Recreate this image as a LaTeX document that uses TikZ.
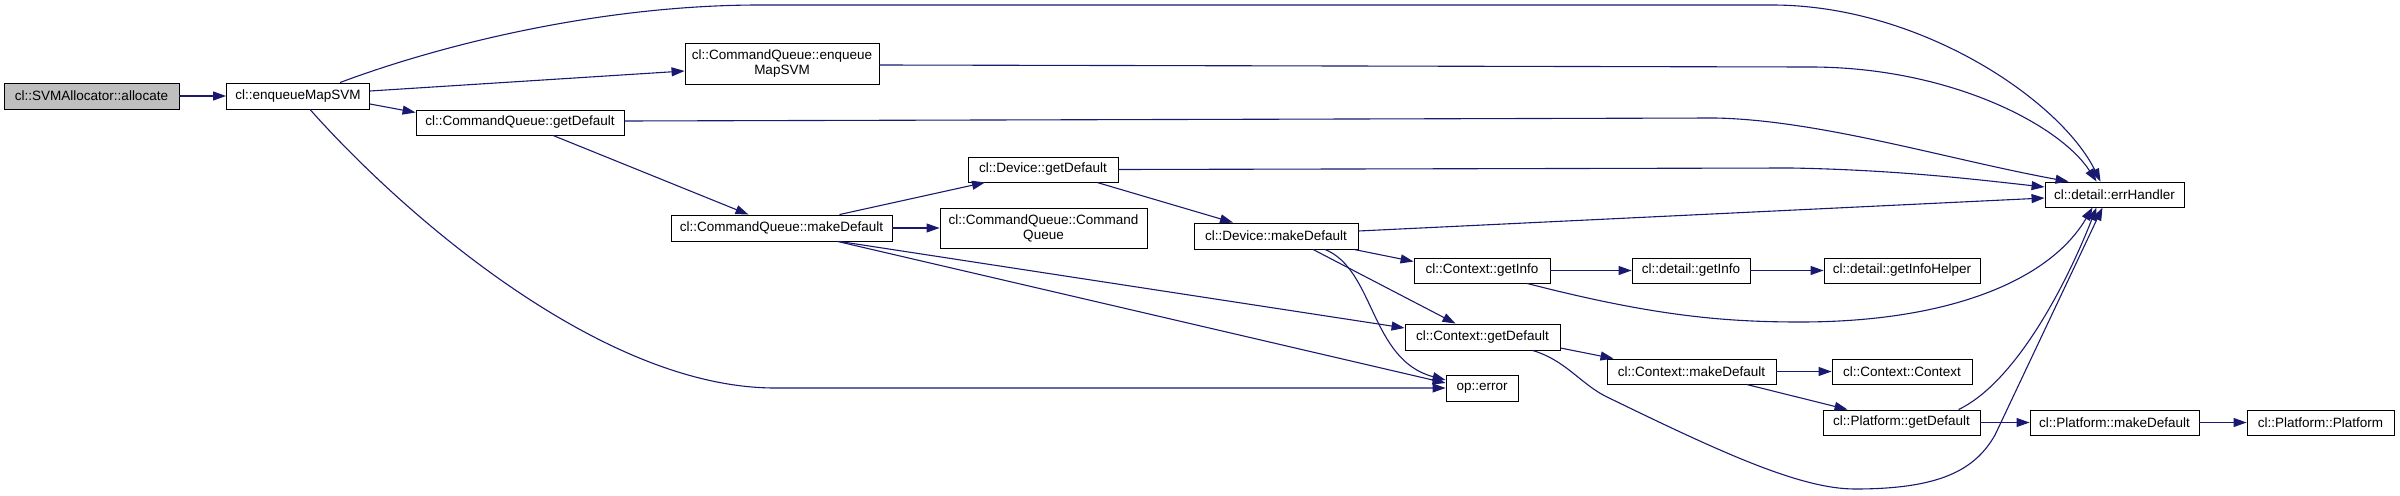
\documentclass[tikz,border=0pt]{standalone}
\usepackage{fontspec}
\setmainfont{Liberation Sans}
\usetikzlibrary{arrows.meta}
\definecolor{edgeblue}{HTML}{191970}
\definecolor{rootgray}{HTML}{BFBFBF}
\tikzset{
  box/.style={draw=black, line width=0.9pt, fill=white, inner sep=0pt, align=center,
    font=\fontsize{13.5}{15}\selectfont},
  edge/.style={draw=edgeblue, line width=1.1pt, -{Triangle[length=13pt,width=9pt]}}
}
\begin{document}
\begin{tikzpicture}[x=1pt,y=-1pt]
\useasboundingbox (0,0) rectangle (2400,495);
% nodes
\node[box, fill=rootgray, minimum width=175pt, minimum height=26pt] (alloc) at (91.5,96) {cl::SVMAllocator::allocate};
\node[box, minimum width=143pt, minimum height=26pt] (emsvm) at (298,96) {cl::enqueueMapSVM};
\node[box, minimum width=208pt, minimum height=25pt] (cqgd) at (520,122.5) {cl::CommandQueue::getDefault};
\node[box, minimum width=194pt, minimum height=41pt] (cqems) at (782,63.5) {cl::CommandQueue::enqueue\\MapSVM};
\node[box, minimum width=150pt, minimum height=25pt] (dgd) at (1043,169.5) {cl::Device::getDefault};
\node[box, minimum width=221pt, minimum height=26pt] (cqmd) at (781.5,228) {cl::CommandQueue::makeDefault};
\node[box, minimum width=207pt, minimum height=40pt] (cqcq) at (1043.5,228) {cl::CommandQueue::Command\\Queue};
\node[box, minimum width=164pt, minimum height=26pt] (dmd) at (1276,236) {cl::Device::makeDefault};
\node[box, minimum width=139pt, minimum height=25pt] (err) at (2114.5,194.5) {cl::detail::errHandler};
\node[box, minimum width=136pt, minimum height=25pt] (cgi) at (1482,270.5) {cl::Context::getInfo};
\node[box, minimum width=118pt, minimum height=25pt] (dgi) at (1691,270.5) {cl::detail::getInfo};
\node[box, minimum width=156pt, minimum height=25pt] (gih) at (1902,270.5) {cl::detail::getInfoHelper};
\node[box, minimum width=155pt, minimum height=26pt] (cgd) at (1482.5,337) {cl::Context::getDefault};
\node[box, minimum width=72pt, minimum height=26pt] (operr) at (1482,388) {op::error};
\node[box, minimum width=169pt, minimum height=25pt] (cmd) at (1691.5,371.5) {cl::Context::makeDefault};
\node[box, minimum width=140pt, minimum height=25pt] (cctx) at (1902,371.5) {cl::Context::Context};
\node[box, minimum width=157pt, minimum height=25pt] (pgd) at (1901.5,422.5) {cl::Platform::getDefault};
\node[box, minimum width=169pt, minimum height=25pt] (pmd) at (2114.5,422.5) {cl::Platform::makeDefault};
\node[box, minimum width=147pt, minimum height=25pt] (pp) at (2320.5,422.5) {cl::Platform::Platform};
% edges
\draw[edge] (alloc) -- (emsvm);
\draw[edge] ([yshift=5pt]emsvm.east) -- ([yshift=-7.5pt]cqems.west);
\draw[edge] ([yshift=-8pt]emsvm.east) -- ([yshift=10pt]cqgd.west);
\draw[edge] ([xshift=12pt]emsvm.south) .. controls (400,211) and (600,388) .. (775,388) -- (operr.west);
\draw[edge] ([xshift=42pt]emsvm.north) .. controls (440,45) and (600,5) .. (760,5) -- (1772,5) .. controls (1920,5) and (2060,100) .. ([xshift=-14pt]err.north);
\draw[edge] ([yshift=-1.5pt]cqems.east) -- (1810,67) .. controls (1950,67) and (2060,125) .. ([xshift=-18pt]err.north);
\draw[edge] ([yshift=1.5pt]cqgd.east) -- (1715,118) .. controls (1820,120) and (1950,160) .. ([xshift=-46pt]err.north);
\draw[edge] ([xshift=33pt]cqgd.south) -- ([xshift=-33pt]cqmd.north);
\draw[edge] ([xshift=58pt]cqmd.north) -- ([xshift=-58pt]dgd.south);
\draw[edge] (cqmd) -- (cqcq);
\draw[edge] ([xshift=58pt]cqmd.south) -- ([yshift=9pt]cgd.west);
\draw[edge] ([xshift=56pt]cqmd.south) -- ([yshift=5pt]operr.west);
\draw[edge] (dgd.east) -- (1791,168) .. controls (1900,170) and (1980,180) .. ([yshift=7.5pt]err.west);
\draw[edge] ([xshift=54pt]dgd.south) -- ([xshift=-43pt]dmd.north);
\draw[edge] ([yshift=5pt]dmd.east) -- ([yshift=-3.5pt]err.west);
\draw[edge] ([xshift=78pt]dmd.south) -- ([yshift=9pt]cgi.west);
\draw[edge] ([xshift=37pt]dmd.south) -- ([xshift=-27pt]cgd.north);
\draw[edge] ([xshift=49pt]dmd.south) .. controls (1375,270) and (1370,360) .. ([yshift=8pt]operr.west);
\draw[edge] (cgi) -- (dgi);
\draw[edge] (dgi) -- (gih);
\draw[edge] ([xshift=45pt]cgi.south) .. controls (1650,315) and (1720,322) .. (1800,322) .. controls (1950,322) and (2050,280) .. ([xshift=-22pt]err.south);
\draw[edge] ([yshift=-11pt]cgd.east) -- ([xshift=-78pt]cmd.north);
\draw[edge] ([xshift=50pt]cgd.south) .. controls (1565,360) and (1580,383) .. (1605,396) .. controls (1720,452) and (1800,489) .. (1855,489) .. controls (1940,489) and (1975,470) .. (1995,435) -- ([xshift=-12pt]err.south);
\draw[edge] (cmd) -- (cctx);
\draw[edge] ([xshift=55pt]cmd.south) -- ([xshift=-54pt]pgd.north);
\draw[edge] (pgd) -- (pmd);
\draw[edge] (pmd) -- (pp);
\draw[edge] ([xshift=57pt]pgd.north) .. controls (2010,385) and (2060,300) .. ([xshift=-18pt]err.south);
\end{tikzpicture}
\end{document}
